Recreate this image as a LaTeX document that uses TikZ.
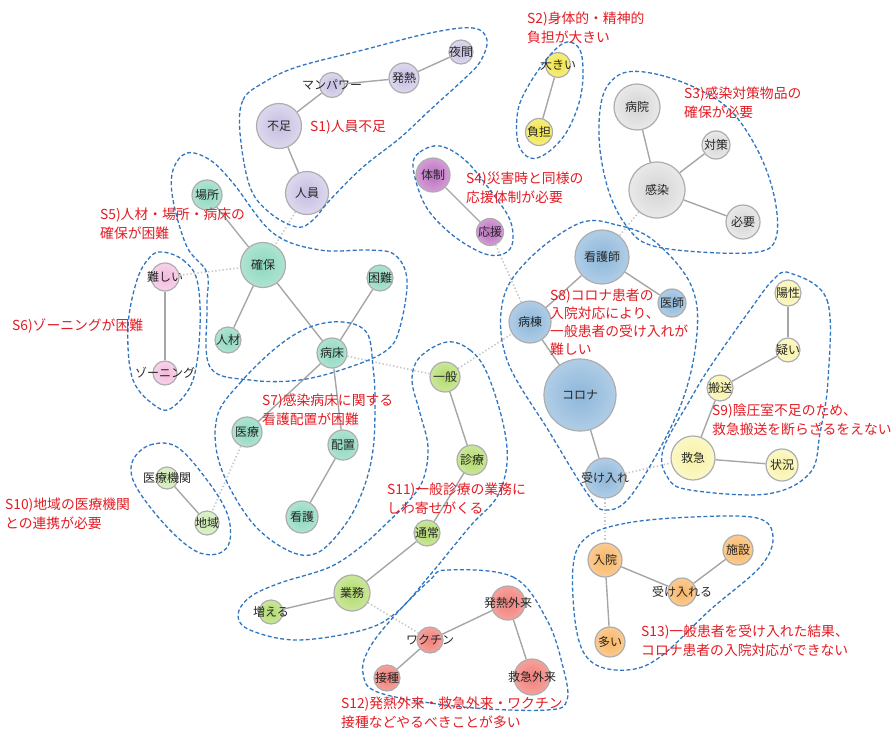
\documentclass[tikz,border=0pt]{standalone}
\usepackage{fontspec}
\setmainfont{Noto Sans CJK JP}
\usepackage{xcolor}
\usepackage{tikz}

\definecolor{s1in}{HTML}{C5BDE0}\definecolor{s1out}{HTML}{DDD8EE}
\definecolor{s2in}{HTML}{F0E440}\definecolor{s2out}{HTML}{F6EE80}
\definecolor{s3in}{HTML}{D4D4D4}\definecolor{s3out}{HTML}{E9E9E9}
\definecolor{s4in}{HTML}{B86FBC}\definecolor{s4out}{HTML}{D59CD8}
\definecolor{s5in}{HTML}{8ED7BE}\definecolor{s5out}{HTML}{AEE4D1}
\definecolor{s6in}{HTML}{F2B9DB}\definecolor{s6out}{HTML}{F8D3EA}
\definecolor{s8in}{HTML}{8DB7DA}\definecolor{s8out}{HTML}{B0CDE6}
\definecolor{s9in}{HTML}{F7F1A2}\definecolor{s9out}{HTML}{FBF8C8}
\definecolor{s10in}{HTML}{C9E9AE}\definecolor{s10out}{HTML}{DDF2CB}
\definecolor{s11in}{HTML}{B1DA6B}\definecolor{s11out}{HTML}{CBE79B}
\definecolor{s12in}{HTML}{EF7F79}\definecolor{s12out}{HTML}{F6A19C}
\definecolor{s13in}{HTML}{F8B564}\definecolor{s13out}{HTML}{FBCB92}
\definecolor{hullblue}{HTML}{2F75C0}
\definecolor{notered}{HTML}{E31B23}

\newcommand\kwfont{\fontsize{12}{14}\selectfont}
\newcommand\notefont{\fontsize{13.8}{19}\selectfont}

\tikzset{
  kw/.style 2 args={circle, draw=black!32, line width=1.2pt, inner sep=0pt,
    inner color=#1in, outer color=#1out,
    label={[font=\kwfont, text=black!85, inner sep=0pt]center:#2}},
  link/.style={draw=black!35, line width=1.4pt},
  xlink/.style={draw=black!22, line width=1.6pt, dash pattern=on 1.4pt off 2.2pt},
  grp/.style={draw=hullblue, line width=1.3pt, dash pattern=on 4pt off 2.4pt},
  note/.style={text=notered, font=\notefont, align=left, anchor=north west, inner sep=0pt},
}

\begin{document}
\begin{tikzpicture}[x=1pt, y=-1pt]
  \useasboundingbox (0,0) rectangle (893,733);

  \node[kw={s1}{夜間}, minimum size=24pt] (yakan) at (461,52) {};
  \node[kw={s1}{発熱}, minimum size=30pt] (hatsunetsu) at (404,78) {};
  \node[kw={s1}{マンパワー}, minimum size=25pt] (manpower) at (332,85) {};
  \node[kw={s1}{不足}, minimum size=45pt] (fusoku) at (279,126) {};
  \node[kw={s1}{人員}, minimum size=43pt] (jinin) at (307,193) {};

  \node[kw={s2}{大きい}, minimum size=25pt] (ookii) at (558,65) {};
  \node[kw={s2}{負担}, minimum size=27pt] (futan) at (539,132) {};

  \node[kw={s3}{病院}, minimum size=46pt] (byoin) at (637,107) {};
  \node[kw={s3}{対策}, minimum size=28pt] (taisaku) at (716,145) {};
  \node[kw={s3}{感染}, minimum size=56pt] (kansen) at (657,190) {};
  \node[kw={s3}{必要}, minimum size=34pt] (hitsuyo) at (743,222) {};

  \node[kw={s4}{体制}, minimum size=34pt] (taisei) at (433,175) {};
  \node[kw={s4}{応援}, minimum size=27pt] (oen) at (490,232) {};

  \node[kw={s5}{場所}, minimum size=30pt] (basho) at (207,195) {};
  \node[kw={s5}{確保}, minimum size=45pt] (kakuho) at (263,265) {};
  \node[kw={s5}{困難}, minimum size=26pt] (konnan) at (380,278) {};
  \node[kw={s5}{人材}, minimum size=26pt] (jinzai) at (228,340) {};
  \node[kw={s5}{病床}, minimum size=30pt] (byosho) at (332,353) {};

  \node[kw={s6}{難しい}, minimum size=28pt] (muzukashii) at (165,277) {};
  \node[kw={s6}{ゾーニング}, minimum size=24pt] (zoning) at (165,373) {};

  \node[kw={s5}{医療}, minimum size=30pt] (iryo) at (247,432) {};
  \node[kw={s5}{配置}, minimum size=30pt] (haichi) at (343,445) {};
  \node[kw={s5}{看護}, minimum size=32pt] (kango) at (302,517) {};

  \node[kw={s8}{看護師}, minimum size=54pt] (kangoshi) at (602,257) {};
  \node[kw={s8}{医師}, minimum size=28pt] (ishi) at (672,303) {};
  \node[kw={s8}{病棟}, minimum size=42pt] (byoto) at (530,322) {};
  \node[kw={s8}{コロナ}, minimum size=72pt] (korona) at (580,395) {};
  \node[kw={s8}{受け入れ}, minimum size=40pt] (ukeire) at (605,478) {};

  \node[kw={s9}{陽性}, minimum size=26pt] (yosei) at (788,293) {};
  \node[kw={s9}{疑い}, minimum size=24pt] (utagai) at (788,350) {};
  \node[kw={s9}{搬送}, minimum size=26pt] (hanso) at (720,388) {};
  \node[kw={s9}{救急}, minimum size=44pt] (kyukyu) at (693,458) {};
  \node[kw={s9}{状況}, minimum size=32pt] (jokyo) at (782,465) {};

  \node[kw={s10}{医療機関}, minimum size=22pt] (iryokikan) at (167,478) {};
  \node[kw={s10}{地域}, minimum size=24pt] (chiiki) at (207,523) {};

  \node[kw={s11}{一般}, minimum size=30pt] (ippan) at (445,377) {};
  \node[kw={s11}{診療}, minimum size=30pt] (shinryo) at (472,460) {};
  \node[kw={s11}{通常}, minimum size=26pt] (tsujo) at (427,533) {};
  \node[kw={s11}{業務}, minimum size=36pt] (gyomu) at (352,593) {};
  \node[kw={s11}{増える}, minimum size=24pt] (fueru) at (271,612) {};

  \node[kw={s12}{発熱外来}, minimum size=34pt] (hatsunetsugairai) at (508,603) {};
  \node[kw={s12}{ワクチン}, minimum size=26pt] (wakuchin) at (430,640) {};
  \node[kw={s12}{接種}, minimum size=26pt] (sesshu) at (387,678) {};
  \node[kw={s12}{救急外来}, minimum size=36pt] (kyukyugairai) at (532,677) {};

  \node[kw={s13}{入院}, minimum size=34pt] (nyuin) at (605,560) {};
  \node[kw={s13}{施設}, minimum size=30pt] (shisetsu) at (738,550) {};
  \node[kw={s13}{受け入れる}, minimum size=28pt] (ukeireru) at (682,592) {};
  \node[kw={s13}{多い}, minimum size=30pt] (ooi) at (610,642) {};

  \draw[link] (yakan) -- (hatsunetsu);
  \draw[link] (hatsunetsu) -- (manpower);
  \draw[link] (manpower) -- (fusoku);
  \draw[link] (fusoku) -- (jinin);
  \draw[link] (ookii) -- (futan);
  \draw[link] (byoin) -- (kansen);
  \draw[link] (taisaku) -- (kansen);
  \draw[link] (kansen) -- (hitsuyo);
  \draw[link] (taisei) -- (oen);
  \draw[link] (basho) -- (kakuho);
  \draw[link] (kakuho) -- (jinzai);
  \draw[link] (kakuho) -- (byosho);
  \draw[link] (konnan) -- (byosho);
  \draw[link] (muzukashii) -- (zoning);
  \draw[link] (byosho) -- (iryo);
  \draw[link] (byosho) -- (haichi);
  \draw[link] (haichi) -- (kango);
  \draw[link] (kangoshi) -- (byoto);
  \draw[link] (kangoshi) -- (ishi);
  \draw[link] (byoto) -- (korona);
  \draw[link] (korona) -- (ukeire);
  \draw[link] (yosei) -- (utagai);
  \draw[link] (utagai) -- (hanso);
  \draw[link] (hanso) -- (kyukyu);
  \draw[link] (kyukyu) -- (jokyo);
  \draw[link] (iryokikan) -- (chiiki);
  \draw[link] (ippan) -- (shinryo);
  \draw[link] (shinryo) -- (tsujo);
  \draw[link] (tsujo) -- (gyomu);
  \draw[link] (gyomu) -- (fueru);
  \draw[link] (hatsunetsugairai) -- (wakuchin);
  \draw[link] (wakuchin) -- (sesshu);
  \draw[link] (hatsunetsugairai) -- (kyukyugairai);
  \draw[link] (nyuin) -- (ukeireru);
  \draw[link] (ukeireru) -- (shisetsu);
  \draw[link] (nyuin) -- (ooi);

  \draw[xlink] (jinin) -- (kakuho);
  \draw[xlink] (muzukashii) -- (kakuho);
  \draw[xlink] (byosho) -- (ippan);
  \draw[xlink] (ippan) -- (byoto);
  \draw[xlink] (oen) -- (byoto);
  \draw[xlink] (kansen) -- (kangoshi);
  \draw[xlink] (ukeire) -- (kyukyu);
  \draw[xlink] (ukeire) -- (nyuin);
  \draw[xlink] (iryo) -- (chiiki);
  \draw[xlink] (gyomu) -- (wakuchin);

  \draw[grp] plot[smooth cycle, tension=0.6] coordinates {(240,133) (243,100) (263,83) (297,67) (363,50) (430,33) (473,28) (487,40) (480,62) (463,80) (430,110) (400,138) (363,167) (330,200) (313,220) (297,227) (270,213) (250,187)};
  \draw[grp] plot[smooth cycle, tension=0.6] coordinates {(567,42) (580,50) (583,75) (579,103) (566,133) (547,153) (530,158) (518,143) (518,110) (530,83) (550,55)};
  \draw[grp] plot[smooth cycle, tension=0.6] coordinates {(627,72) (660,75) (700,90) (733,113) (760,155) (775,200) (776,238) (758,252) (700,252) (650,245) (628,228) (610,195) (600,150) (600,110) (608,85)};
  \draw[grp] plot[smooth cycle, tension=0.6] coordinates {(413,167) (420,152) (440,146) (465,160) (490,190) (510,220) (512,245) (500,255) (480,252) (450,233) (425,205)};
  \draw[grp] plot[smooth cycle, tension=0.6] coordinates {(173,170) (187,153) (210,160) (233,183) (273,233) (320,250) (370,250) (395,255) (407,280) (400,327) (387,350) (350,367) (300,380) (250,380) (210,367) (207,307) (207,273) (187,247) (173,200)};
  \draw[grp] plot[smooth cycle, tension=0.6] coordinates {(163,252) (183,260) (197,280) (200,327) (193,380) (173,407) (157,407) (133,380) (128,327) (137,280) (150,257)};
  \draw[grp] plot[smooth cycle, tension=0.6] coordinates {(217,417) (240,383) (277,347) (310,327) (343,322) (367,333) (373,367) (375,400) (373,450) (363,490) (345,525) (317,553) (287,550) (250,520) (220,465)};
  \draw[grp] plot[smooth cycle, tension=0.6] coordinates {(580,223) (617,225) (653,240) (690,283) (697,333) (680,407) (633,493) (605,510) (587,493) (550,433) (507,360) (503,300) (530,258)};
  \draw[grp] plot[smooth cycle, tension=0.6] coordinates {(790,273) (827,300) (828,380) (820,433) (810,473) (767,494) (690,490) (668,478) (663,450) (690,400) (710,367) (750,310) (773,280)};
  \draw[grp] plot[smooth cycle, tension=0.6] coordinates {(133,460) (150,445) (177,447) (207,480) (227,513) (230,540) (220,553) (200,553) (177,537) (150,507) (133,480)};
  \draw[grp] plot[smooth cycle, tension=0.6] coordinates {(447,342) (470,350) (487,373) (503,423) (507,463) (497,497) (473,523) (453,547) (430,575) (397,612) (363,630) (297,640) (250,630) (238,615) (250,597) (280,583) (330,567) (363,545) (387,523) (407,503) (423,480) (428,447) (420,413) (412,380) (420,357)};
  \draw[grp] plot[smooth cycle, tension=0.6] coordinates {(447,570) (513,577) (547,620) (563,667) (567,700) (547,710) (463,707) (380,693) (363,673) (370,647) (397,613) (430,580)};
  \draw[grp] plot[smooth cycle, tension=0.6] coordinates {(587,537) (627,523) (693,517) (757,518) (773,537) (760,567) (710,610) (660,657) (627,670) (593,663) (577,633) (573,567)};

  \node[note] (n1) at (310,120) {S1)人員不足};
  \node[note] (n2) at (527,12) {S2)身体的・精神的\\負担が大きい};
  \node[note] (n3) at (684,87) {S3)感染対策物品の\\確保が必要};
  \node[note] (n4) at (466,172) {S4)災害時と同様の\\応援体制が必要};
  \node[note] (n5) at (100,208) {S5)人材・場所・病床の\\確保が困難};
  \node[note] (n6) at (12,319) {S6)ゾーニングが困難};
  \node[note] (n7) at (262,394) {S7)感染病床に関する\\看護配置が困難};
  \node[note, font=\fontsize{13.8}{18}\selectfont] (n8) at (550,289) {S8)コロナ患者の\\入院対応により、\\一般患者の受け入れが\\難しい};
  \node[note] (n9) at (712,404) {S9)陰圧室不足のため、\\救急搬送を断らざるをえない};
  \node[note] (n10) at (5,498) {S10)地域の医療機関\\との連携が必要};
  \node[note] (n11) at (387,483) {S11)一般診療の業務に\\しわ寄せがくる};
  \node[note] (n12) at (341,697) {S12)発熱外来・救急外来・ワクチン\\接種などやるべきことが多い};
  \node[note] (n13) at (641,625) {S13)一般患者を受け入れた結果、\\コロナ患者の入院対応ができない};
\end{tikzpicture}
\end{document}
